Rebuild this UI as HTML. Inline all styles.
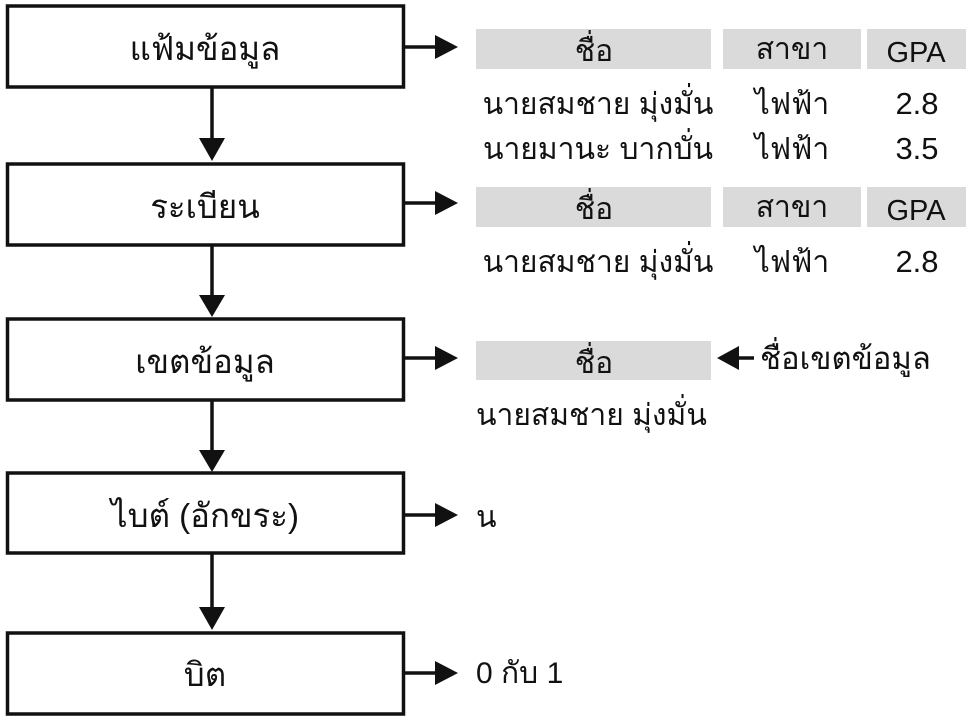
<!DOCTYPE html>
<html><head><meta charset="utf-8"><style>
html,body{margin:0;padding:0;background:#fff;}
svg{display:block;}
text{font-family:"Liberation Sans","DejaVu Sans","Noto Sans CJK SC",sans-serif;fill:#111;}
</style></head><body>
<svg width="976" height="720" viewBox="0 0 976 720" xmlns="http://www.w3.org/2000/svg">
<g fill="none" stroke="#111" stroke-width="3.5">
<rect x="7.5" y="6" width="396" height="81"/>
<rect x="7.5" y="164" width="396" height="81"/>
<rect x="7.5" y="319" width="396" height="81"/>
<rect x="7.5" y="473" width="396" height="80"/>
<rect x="7.5" y="633" width="396" height="81"/>
</g>
<g font-size="33" text-anchor="middle">
<text x="205" y="60">แฟ้มข้อมูล</text>
<text x="205" y="218">ระเบียน</text>
<text x="205" y="373">เขตข้อมูล</text>
<text x="205" y="527">ไบต์ (อักขระ)</text>
<text x="205" y="686">บิต</text>
</g>
<g stroke="#111" stroke-width="3.5">
<line x1="212" y1="88" x2="212" y2="140"/>
<line x1="212" y1="246" x2="212" y2="296"/>
<line x1="212" y1="401" x2="212" y2="450"/>
<line x1="212" y1="554" x2="212" y2="610"/>
<line x1="404" y1="47" x2="438" y2="47"/>
<line x1="404" y1="203" x2="438" y2="203"/>
<line x1="404" y1="358" x2="438" y2="358"/>
<line x1="404" y1="515" x2="438" y2="515"/>
<line x1="404" y1="673" x2="438" y2="673"/>
<line x1="735" y1="358" x2="754" y2="358"/>
</g>
<g fill="#111">
<polygon points="199,138 225,138 212,161"/>
<polygon points="199,295 225,295 212,317"/>
<polygon points="199,450 225,450 212,472"/>
<polygon points="199,607 225,607 212,630"/>
<polygon points="435,35 458,47 435,59"/>
<polygon points="435,191 458,203 435,215"/>
<polygon points="435,346 458,358 435,370"/>
<polygon points="435,503 458,515 435,527"/>
<polygon points="435,661 458,673 435,685"/>
<polygon points="739,346 717,358 739,370"/>
</g>
<g fill="#dadada">
<rect x="476" y="29" width="235" height="40"/>
<rect x="723" y="29" width="138" height="40"/>
<rect x="867" y="29" width="99" height="40"/>
<rect x="476" y="187" width="235" height="40"/>
<rect x="723" y="187" width="138" height="40"/>
<rect x="867" y="187" width="99" height="40"/>
<rect x="476" y="341" width="235" height="39"/>
</g>
<g font-size="30" text-anchor="middle">
<text x="594" y="61">ชื่อ</text>
<text x="792" y="59">สาขา</text>
<text x="598" y="114">นายสมชาย มุ่งมั่น</text>
<text x="792" y="114">ไฟฟ้า</text>
<text x="598" y="159">นายมานะ บากบั่น</text>
<text x="792" y="159">ไฟฟ้า</text>
<text x="594" y="219">ชื่อ</text>
<text x="792" y="217">สาขา</text>
<text x="598" y="272">นายสมชาย มุ่งมั่น</text>
<text x="792" y="272">ไฟฟ้า</text>
<text x="594" y="373">ชื่อ</text>
</g>
<g font-size="29" text-anchor="middle">
<text x="916" y="62">GPA</text>
<text x="917" y="114" font-size="31">2.8</text>
<text x="917" y="159" font-size="31">3.5</text>
<text x="916" y="220">GPA</text>
<text x="917" y="272" font-size="31">2.8</text>
</g>
<g font-size="30">
<text x="760" y="369" font-size="31">ชื่อเขตข้อมูล</text>
<text x="476" y="425">นายสมชาย มุ่งมั่น</text>
<text x="476" y="527">น</text>
<text x="476" y="683"><tspan font-size="30">0</tspan> กับ <tspan font-size="30">1</tspan></text>
</g>
</svg>
</body></html>
